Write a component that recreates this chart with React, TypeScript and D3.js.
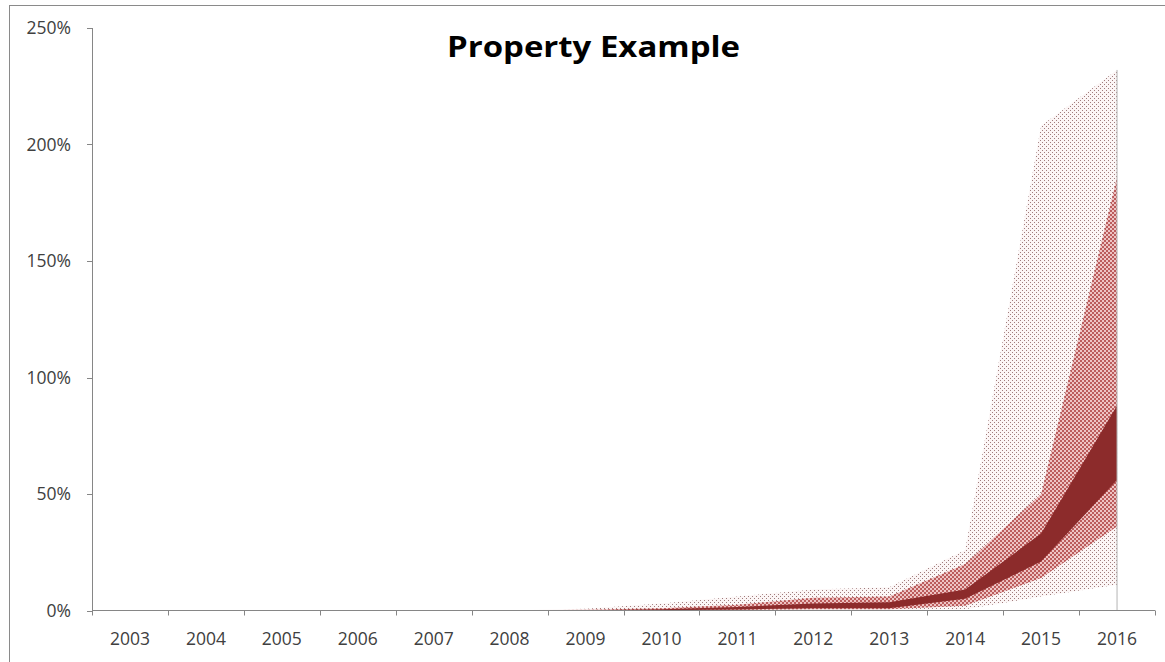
import React from "react";
import * as d3 from "d3";

const years = ["2003","2004","2005","2006","2007","2008","2009","2010","2011","2012","2013","2014","2015","2016"];
const outerLo = [0,0,0,0,0,0,0,0,0,0,0,0.005,0.06,0.11];
const outerHi = [0,0,0,0,0,0,0.008,0.03,0.06,0.09,0.10,0.26,2.08,2.32];
const midLo = [0,0,0,0,0,0,0,0,0.002,0.005,0.005,0.02,0.14,0.36];
const midHi = [0,0,0,0,0,0,0.003,0.01,0.025,0.055,0.06,0.20,0.50,1.86];
const innerLo = [0,0,0,0,0,0,0,0.001,0.004,0.01,0.01,0.05,0.21,0.56];
const innerHi = [0,0,0,0,0,0,0.001,0.005,0.015,0.03,0.035,0.09,0.33,0.88];
const yTicks = [0, 0.5, 1, 1.5, 2, 2.5];
const title = "Property Example";

const W = 1165, H = 662;
const left = 92, right = 1155, top = 28, bottom = 610.5;

export default function App() {
  const x = d3.scaleBand<string>().domain(years).range([left, right]).padding(0);
  const y = d3.scaleLinear().domain([0, 2.5]).range([bottom, top]);
  const cx = (i: number) => (x(years[i]) as number) + x.bandwidth() / 2;
  const band = (lo: number[], hi: number[]) =>
    d3.area<number>()
      .x((_, i) => cx(i))
      .y0((_, i) => y(lo[i]))
      .y1((_, i) => y(hi[i]))(lo.map((_, i) => i)) as string;
  const fmt = d3.format(".0%");
  const last = years.length - 1;
  const font = "'Open Sans', 'Noto Sans', sans-serif";

  return (
    <svg width={W} height={H} style={{ position: "absolute", left: 0, top: 0, background: "#fff" }}>
      <defs>
        <pattern id="pOuter" width="4" height="4" patternUnits="userSpaceOnUse">
          <rect width="4" height="4" fill="#fcf6f6" />
          <rect x="0" y="0" width="1" height="1" fill="#a07c7c" />
          <rect x="2" y="2" width="1" height="1" fill="#a07c7c" />
        </pattern>
        <pattern id="pMid" width="4" height="4" patternUnits="userSpaceOnUse">
          <rect width="4" height="4" fill="#eec4c4" />
          <rect x="0" y="0" width="2" height="2" fill="#bb5c5c" />
          <rect x="2" y="2" width="2" height="2" fill="#bb5c5c" />
        </pattern>
      </defs>
      <rect x={9.5} y={5.5} width={W} height={H} fill="none" stroke="#8a8a8a" strokeWidth={1} />
      <text x={(447 + 740) / 2} y={57} textAnchor="middle" fontFamily={font} fontWeight="bold"
        fontSize={28} fill="#000" textLength={293} lengthAdjust="spacingAndGlyphs">{title}</text>

      <path d={band(outerLo, outerHi)} fill="url(#pOuter)" />
      <path d={band(midLo, midHi)} fill="url(#pMid)" />
      <path d={band(innerLo, innerHi)} fill="#8c2b2b" />
      <line x1={cx(last)} x2={cx(last)} y1={y(outerHi[last])} y2={y(0)} stroke="#b4b4b4" strokeWidth={1} />

      {/* y axis */}
      <line x1={left + 0.5} x2={left + 0.5} y1={top} y2={bottom} stroke="#868686" strokeWidth={1} />
      {yTicks.map((t) => (
        <g key={t}>
          <line x1={left - 5} x2={left} y1={Math.round(y(t)) + 0.5} y2={Math.round(y(t)) + 0.5} stroke="#868686" />
          <text x={71} y={y(t)} dy="0.35em" textAnchor="end" fontFamily={font} fontSize={17.5} fill="#404040">{fmt(t)}</text>
        </g>
      ))}
      {/* x axis */}
      <line x1={left} x2={right} y1={bottom} y2={bottom} stroke="#868686" strokeWidth={1} />
      {d3.range(years.length + 1).map((i) => {
        const xx = Math.round(left + i * x.bandwidth()) + 0.5;
        return <line key={i} x1={xx} x2={xx} y1={bottom} y2={bottom + 5} stroke="#868686" />;
      })}
      {years.map((yr, i) => (
        <text key={yr} x={cx(i)} y={639} dy="0.35em" textAnchor="middle" fontFamily={font} fontSize={17.5} fill="#404040">{yr}</text>
      ))}
    </svg>
  );
}
